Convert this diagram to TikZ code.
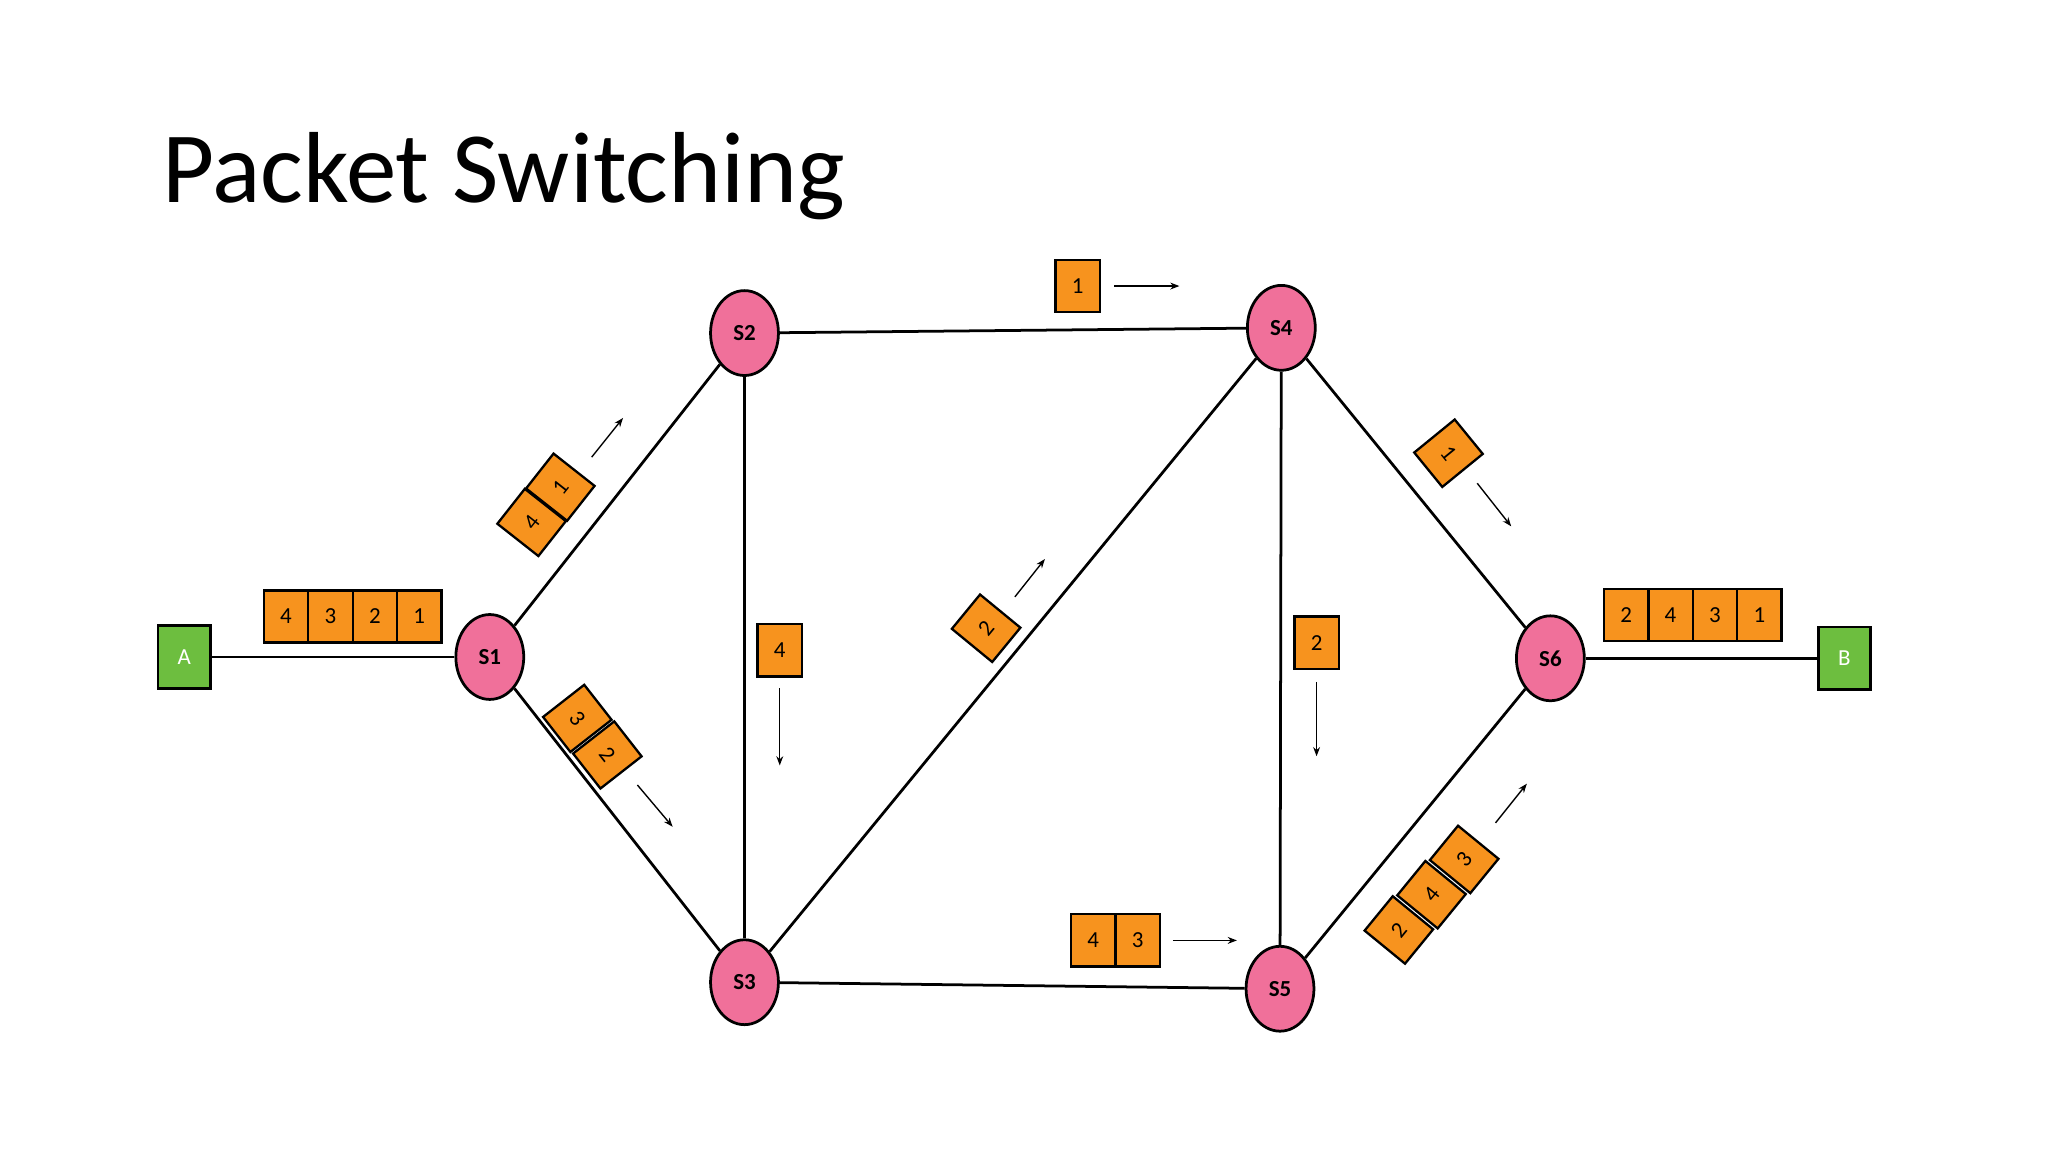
\documentclass[tikz,border=0pt]{standalone}
\usepackage{fontspec}
\setmainfont{Carlito}
\usetikzlibrary{shapes.geometric,arrows.meta}
\definecolor{pk}{HTML}{F7931E}
\definecolor{sw}{HTML}{F0709A}
\definecolor{gr}{HTML}{6DBE3F}
\begin{document}
\begin{tikzpicture}[x=0.02cm,y=-0.02cm,
  sw/.style={ellipse,draw=black,line width=1.2pt,fill=sw,minimum width=1.04cm,minimum height=1.3cm,inner sep=0pt,font=\fontsize{10}{12}\selectfont\bfseries},
  host/.style={rectangle,draw=black,line width=1.2pt,fill=gr,minimum width=0.8cm,minimum height=0.96cm,inner sep=0pt,text=white,font=\fontsize{10}{12}\selectfont},
  pkt/.style={rectangle,draw=black,line width=1pt,fill=pk,minimum width=0.68cm,minimum height=0.8cm,inner sep=0pt,font=\fontsize{10}{12}\selectfont},
  link/.style={line width=1.2pt},
  mv/.style={-{Stealth[length=4pt,width=3pt]},line width=0.6pt}]
\useasboundingbox (0,0) rectangle (1568,882);
\node[anchor=base west,font=\fontsize{44}{50}\selectfont] (title) at (118,155) {Packet Switching};
% switches and hosts
\node[host] (A) at (141,503) {A};
\node[host] (B) at (1412,504) {B};
\node[sw] (S1) at (375,503) {S1};
\node[sw] (S2) at (570,255) {S2};
\node[sw] (S3) at (570,752) {S3};
\node[sw] (S4) at (981,251) {S4};
\node[sw] (S5) at (980,757) {S5};
\node[sw] (S6) at (1187,504) {S6};
% links
\draw[link] (A) -- (S1);
\draw[link] (S1) -- (S2);
\draw[link] (S1) -- (S3);
\draw[link] (S2) -- (S4);
\draw[link] (S2) -- (S3);
\draw[link] (S3) -- (S4);
\draw[link] (S3) -- (S5);
\draw[link] (S4) -- (S5);
\draw[link] (S4) -- (S6);
\draw[link] (S5) -- (S6);
\draw[link] (S6) -- (B);
% queues
\node[pkt] (qa4) at (219,472) {4};
\node[pkt] (qa3) at (253,472) {3};
\node[pkt] (qa2) at (287,472) {2};
\node[pkt] (qa1) at (321,472) {1};
\node[pkt] (qb2) at (1245,471) {2};
\node[pkt] (qb4) at (1279,471) {4};
\node[pkt] (qb3) at (1313,471) {3};
\node[pkt] (qb1) at (1347,471) {1};
% S2-S4
\node[pkt] (p24) at (825,219) {1};
\coordinate (a24s) at (853,219); \coordinate (a24e) at (903,219);
\draw[mv] (a24s) -- (a24e);
% S3-S5
\node[pkt] (p35a) at (837,720) {4};
\node[pkt] (p35b) at (871,720) {3};
\coordinate (a35s) at (898,720); \coordinate (a35e) at (947,720);
\draw[mv] (a35s) -- (a35e);
% S2-S3
\node[pkt] (p23) at (597,498) {4};
\coordinate (a23s) at (597,527); \coordinate (a23e) at (597,586);
\draw[mv] (a23s) -- (a23e);
% S4-S5
\node[pkt] (p45) at (1008,492) {2};
\coordinate (a45s) at (1008,522); \coordinate (a45e) at (1008,579);
\draw[mv] (a45s) -- (a45e);
% S1-S2
\node[pkt,rotate=51.8] (p12a) at (407,400) {4};
\node[pkt,rotate=51.8] (p12b) at (429,373) {1};
\coordinate (a12s) at (453,350); \coordinate (a12e) at (477,320);
\draw[mv] (a12s) -- (a12e);
% S1-S3
\node[pkt,rotate=-52] (p13a) at (442,550) {3};
\node[pkt,rotate=-52] (p13b) at (465,578) {2};
\coordinate (a13s) at (488,601); \coordinate (a13e) at (515,633);
\draw[mv] (a13s) -- (a13e);
% S3-S4
\node[pkt,rotate=50.6] (p34) at (755,481) {2};
\coordinate (a34s) at (777,457); \coordinate (a34e) at (800,428);
\draw[mv] (a34s) -- (a34e);
% S4-S6
\node[pkt,rotate=-50.8] (p46) at (1109,347) {1};
\coordinate (a46s) at (1131,370); \coordinate (a46e) at (1157,403);
\draw[mv] (a46s) -- (a46e);
% S5-S6
\node[pkt,rotate=50.7] (p56a) at (1071,712) {2};
\node[pkt,rotate=50.7] (p56b) at (1096,685) {4};
\node[pkt,rotate=50.7] (p56c) at (1121,658) {3};
\coordinate (a56s) at (1145,630); \coordinate (a56e) at (1169,600);
\draw[mv] (a56s) -- (a56e);
\end{tikzpicture}
\end{document}
